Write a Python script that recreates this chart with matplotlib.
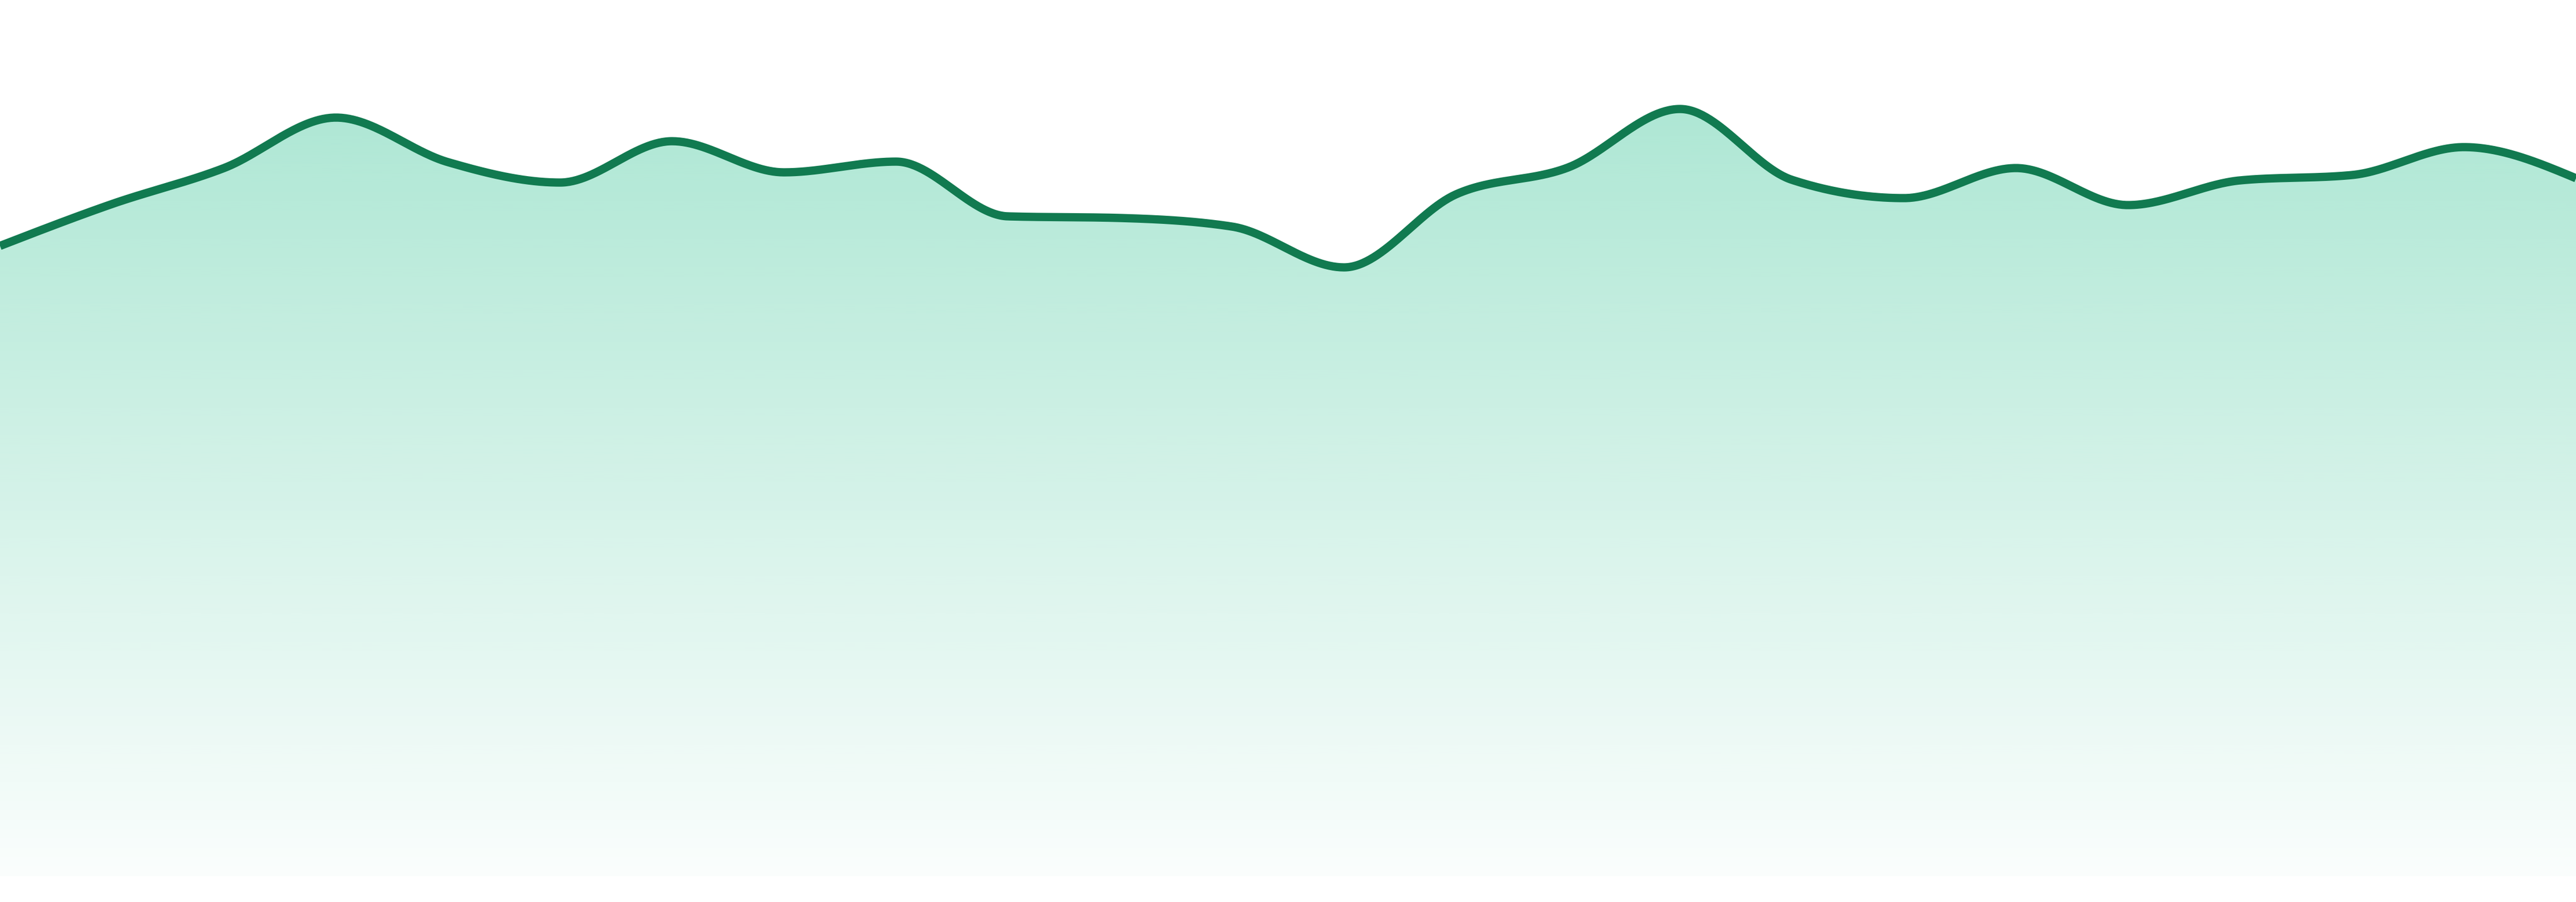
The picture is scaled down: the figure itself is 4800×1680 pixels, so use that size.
import numpy as np
import matplotlib.pyplot as plt
from matplotlib.colors import to_rgb

# values (baseline = 0)
points = list(range(24))
values = [117.4, 125.2, 131.9, 141.3, 133.0, 129.2, 136.9, 131.1, 133.1, 122.9,
          122.6, 121.0, 113.4, 127.0, 132.0, 142.9, 129.7, 126.3, 131.9, 125.0,
          129.6, 130.6, 135.8, 130.0]

line_color = "#117a50"
fill_color = "#10b981"


def monotone_slopes(x, y):
    # same rule as d3.curveMonotoneX
    x = np.asarray(x, float)
    y = np.asarray(y, float)
    h = np.diff(x)
    s = np.diff(y) / h
    m = np.zeros(len(x))
    for i in range(1, len(x) - 1):
        p = (s[i - 1] * h[i] + s[i] * h[i - 1]) / (h[i - 1] + h[i])
        m[i] = (np.sign(s[i - 1]) + np.sign(s[i])) * min(
            abs(s[i - 1]), abs(s[i]), 0.5 * abs(p))
    m[0] = (3 * s[0] - m[1]) / 2
    m[-1] = (3 * s[-1] - m[-2]) / 2
    return m


def smooth(x, y, n=60):
    x = np.asarray(x, float)
    y = np.asarray(y, float)
    m = monotone_slopes(x, y)
    xs, ys = [], []
    for i in range(len(x) - 1):
        h = x[i + 1] - x[i]
        t = np.linspace(0, 1, n, endpoint=False)
        h00 = 2 * t**3 - 3 * t**2 + 1
        h10 = t**3 - 2 * t**2 + t
        h01 = -2 * t**3 + 3 * t**2
        h11 = t**3 - t**2
        xs.append(x[i] + t * h)
        ys.append(h00 * y[i] + h10 * h * m[i] + h01 * y[i + 1] + h11 * h * m[i + 1])
    xs.append([x[-1]])
    ys.append([y[-1]])
    return np.concatenate(xs), np.concatenate(ys)


xs, ys = smooth(points, values)

fig = plt.figure(figsize=(16, 5.6), dpi=300)
ax = fig.add_axes([0, 0, 1, 1])
ax.set_xlim(points[0], points[-1])
ax.set_ylim(-4.8, 163.2)
ax.axis("off")

# gradient fill under the curve
poly = ax.fill_between(xs, ys, 0, color="none", lw=0)
top = max(values)
rgb = to_rgb(fill_color)
grad = np.zeros((256, 1, 4))
grad[:, 0, :3] = rgb
grad[:, 0, 3] = np.linspace(0.34, 0.02, 256)
img = ax.imshow(grad, extent=[points[0], points[-1], 0, top], aspect="auto",
                origin="upper", interpolation="bicubic", zorder=1)
img.set_clip_path(poly.get_paths()[0], transform=ax.transData)

ax.plot(xs, ys, color=line_color, lw=3.7, solid_capstyle="butt",
        solid_joinstyle="round", zorder=2)

fig.savefig("out.png", dpi=300, facecolor="white")
